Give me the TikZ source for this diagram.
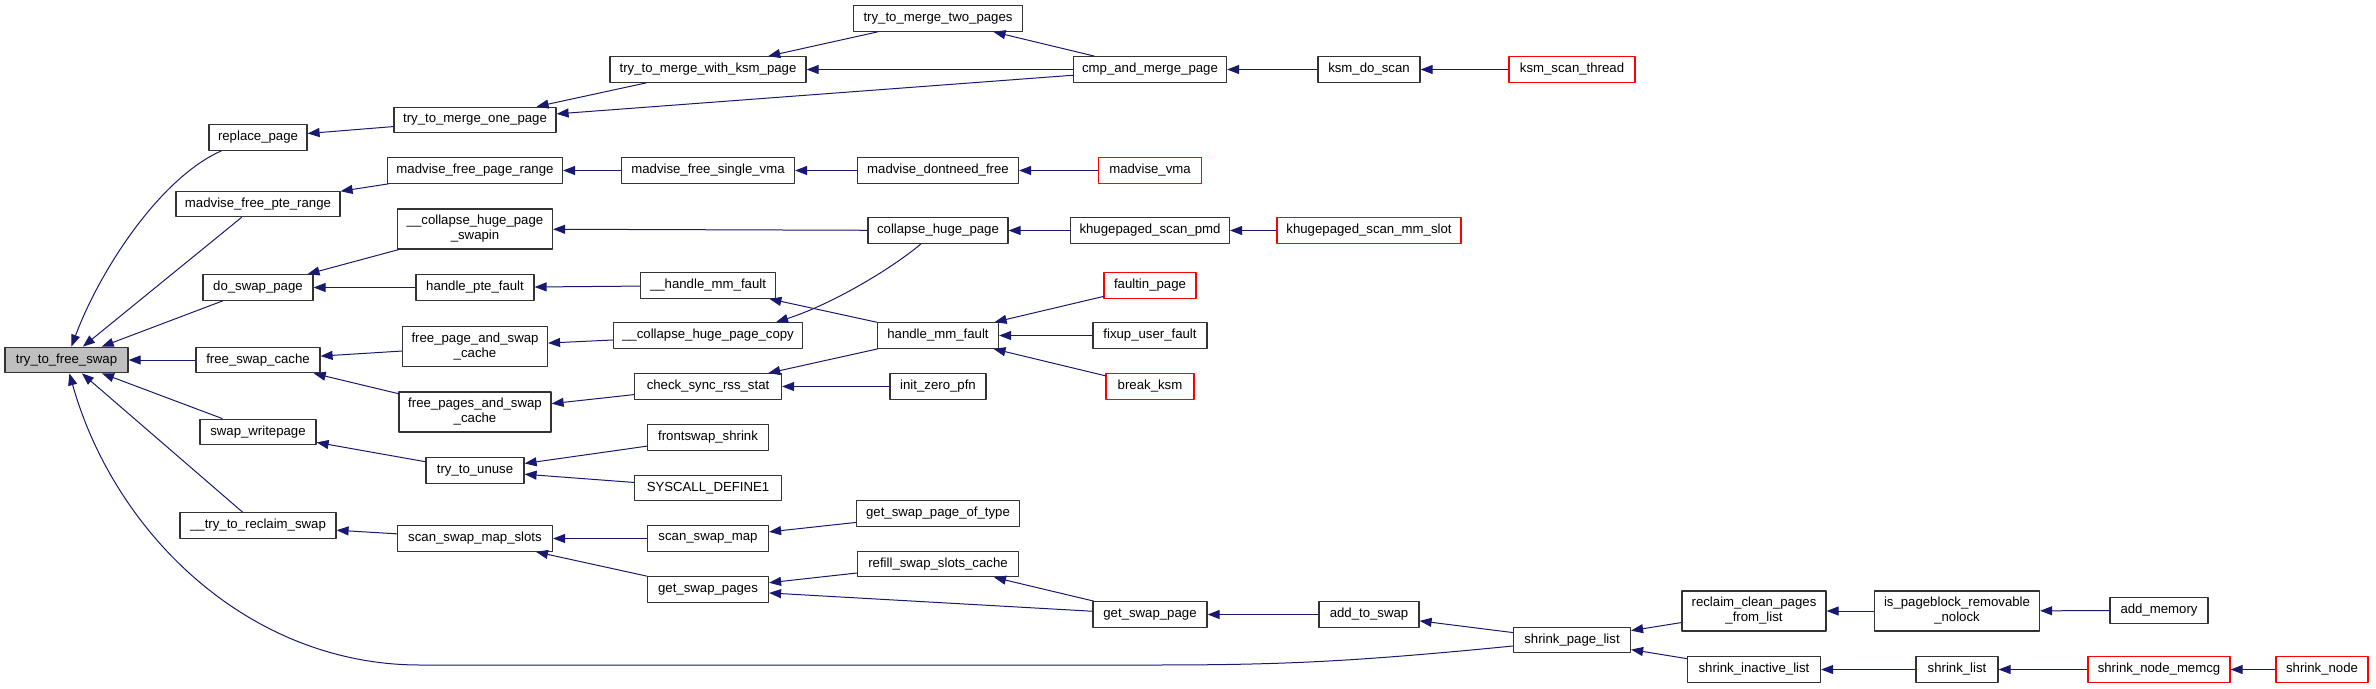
\documentclass[tikz,border=0pt]{standalone}
\usepackage{fontspec}
\setmainfont{Liberation Sans}
\usetikzlibrary{arrows.meta}
\definecolor{edgeblue}{HTML}{191970}
\definecolor{mainfill}{HTML}{BFBFBF}
\newcommand{\fnode}[6][]{\node[fn,#1,minimum width=#5pt] (#2) at (#3,#4) {#6};}

\begin{document}
\begin{tikzpicture}[x=1pt,y=-1pt,line join=round,
    fn/.style={draw=black!80,line width=1.2pt,fill=white,minimum height=25.5pt,inner sep=0pt,
        font=\fontsize{13.2}{15}\selectfont,align=center},
    trunc/.style={draw=red},
    two/.style={minimum height=40pt},
    edge/.style={draw=edgeblue,line width=1pt,-{Triangle[length=12pt,width=9pt]}}]
  \useasboundingbox (0,0) rectangle (2376,688);

  \fnode[fill=mainfill]{tfs}{66.5}{360}{123}{try\_to\_free\_swap}

  \fnode{rp}{258}{137.5}{98}{replace\_page}
  \fnode{mfpr}{258}{204}{164}{madvise\_free\_pte\_range}
  \fnode{dsp}{258}{287.5}{110}{do\_swap\_page}
  \fnode{fsc}{258}{360}{124}{free\_swap\_cache}
  \fnode{swp}{258}{432}{116}{swap\_writepage}
  \fnode{ttrs}{258}{525.5}{156}{\_\_try\_to\_reclaim\_swap}

  \fnode{tmop}{475}{120}{162}{try\_to\_merge\_one\_page}
  \fnode{mfpg}{475}{170.5}{175}{madvise\_free\_page\_range}
  \fnode[two]{chps}{475}{229}{155}{\_\_collapse\_huge\_page\\\_swapin}
  \fnode{hpf}{475}{287.5}{118}{handle\_pte\_fault}
  \fnode[two]{fpasc}{475}{346.5}{145}{free\_page\_and\_swap\\\_cache}
  \fnode[two]{fpsc}{475}{412}{152}{free\_pages\_and\_swap\\\_cache}
  \fnode{ttu}{475}{470.5}{98}{try\_to\_unuse}
  \fnode{ssms}{475}{538.5}{155}{scan\_swap\_map\_slots}

  \fnode{tmwk}{708}{69.5}{196}{try\_to\_merge\_with\_ksm\_page}
  \fnode{mfsv}{708}{170.5}{173}{madvise\_free\_single\_vma}
  \fnode{hmf2}{708}{285.5}{135}{\_\_handle\_mm\_fault}
  \fnode{chpc}{708}{335.5}{189}{\_\_collapse\_huge\_page\_copy}
  \fnode{csrs}{708}{386.5}{147}{check\_sync\_rss\_stat}
  \fnode{fss}{708}{437.5}{121}{frontswap\_shrink}
  \fnode{sysd}{708}{488}{147}{SYSCALL\_DEFINE1}
  \fnode{ssm}{708}{538.5}{121}{scan\_swap\_map}
  \fnode{gsps}{708}{589.5}{121}{get\_swap\_pages}

  \fnode{tmtp}{938}{18.5}{169}{try\_to\_merge\_two\_pages}
  \fnode{mdf}{938}{170.5}{161}{madvise\_dontneed\_free}
  \fnode{chp}{938}{230.5}{140}{collapse\_huge\_page}
  \fnode{hmf}{938}{335.5}{121}{handle\_mm\_fault}
  \fnode{izp}{938}{386.5}{96}{init\_zero\_pfn}
  \fnode{gspt}{938}{513.5}{163}{get\_swap\_page\_of\_type}
  \fnode{rssc}{938}{564}{161}{refill\_swap\_slots\_cache}

  \fnode{camp}{1150}{69.5}{153}{cmp\_and\_merge\_page}
  \fnode[trunc]{mvma}{1150}{170.5}{103}{madvise\_vma}
  \fnode{ksp}{1150}{230.5}{159}{khugepaged\_scan\_pmd}
  \fnode[trunc]{fp}{1150}{285.5}{92}{faultin\_page}
  \fnode{fuf}{1150}{335.5}{114}{fixup\_user\_fault}
  \fnode[trunc]{bk}{1150}{386.5}{88}{break\_ksm}
  \fnode{gsp}{1150}{614.5}{114}{get\_swap\_page}

  \fnode{kds}{1369}{69.5}{102}{ksm\_do\_scan}
  \fnode[trunc]{ksms}{1369}{230.5}{184}{khugepaged\_scan\_mm\_slot}
  \fnode{ats}{1369}{614.5}{100}{add\_to\_swap}

  \fnode[trunc]{kst}{1572}{69.5}{126}{ksm\_scan\_thread}
  \fnode{spl}{1572}{640}{117}{shrink\_page\_list}

  \fnode[two]{rcpl}{1754}{611}{144}{reclaim\_clean\_pages\\\_from\_list}
  \fnode{sil}{1754}{669.5}{133}{shrink\_inactive\_list}
  \fnode[two]{ipr}{1957}{611}{165}{is\_pageblock\_removable\\\_nolock}
  \fnode{sl}{1957}{669.5}{82}{shrink\_list}
  \fnode{am}{2159}{610.5}{98}{add\_memory}
  \fnode[trunc]{snm}{2159}{669.5}{142}{shrink\_node\_memcg}
  \fnode[trunc]{sn}{2322}{669.5}{92}{shrink\_node}

  \foreach \a/\b in {mfpr/tfs, dsp/tfs, fsc/tfs, swp/tfs, ttrs/tfs, tmop/rp, tmwk/tmop,
      camp/tmop, tmtp/tmwk, camp/tmwk, camp/tmtp, kds/camp, kst/kds, mfpg/mfpr, mfsv/mfpg,
      mdf/mfsv, mvma/mdf, chps/dsp, hpf/dsp, chp/chps, ksp/chp, ksms/ksp, hmf2/hpf, hmf/hmf2,
      fp/hmf, fuf/hmf, bk/hmf, chpc/fpasc, fpasc/fsc, fpsc/fsc, csrs/fpsc, hmf/csrs, izp/csrs,
      ttu/swp, fss/ttu, sysd/ttu, ssms/ttrs, ssm/ssms, gsps/ssms, gspt/ssm, rssc/gsps, gsp/gsps,
      gsp/rssc, ats/gsp, spl/ats, rcpl/spl, sil/spl, ipr/rcpl, am/ipr, sl/sil, snm/sl, sn/snm} {
      \draw[edge] (\a) -- (\b);
    }

  \draw[edge] ([xshift=13pt]rp.south west) .. controls (160,178) and (100,270) .. ([xshift=67pt]tfs.north west);
  \draw[edge] ([xshift=-17pt]chp.south) .. controls (890,270) and (830,305) .. ([xshift=-27pt]chpc.north east);
  \draw[edge] ([yshift=-6pt]spl.west) .. controls (1350,662) and (1280,665) .. (1150,665) -- (420,665)
    .. controls (250,665) and (115,535) .. ([xshift=65pt]tfs.south west);
\end{tikzpicture}
\end{document}
